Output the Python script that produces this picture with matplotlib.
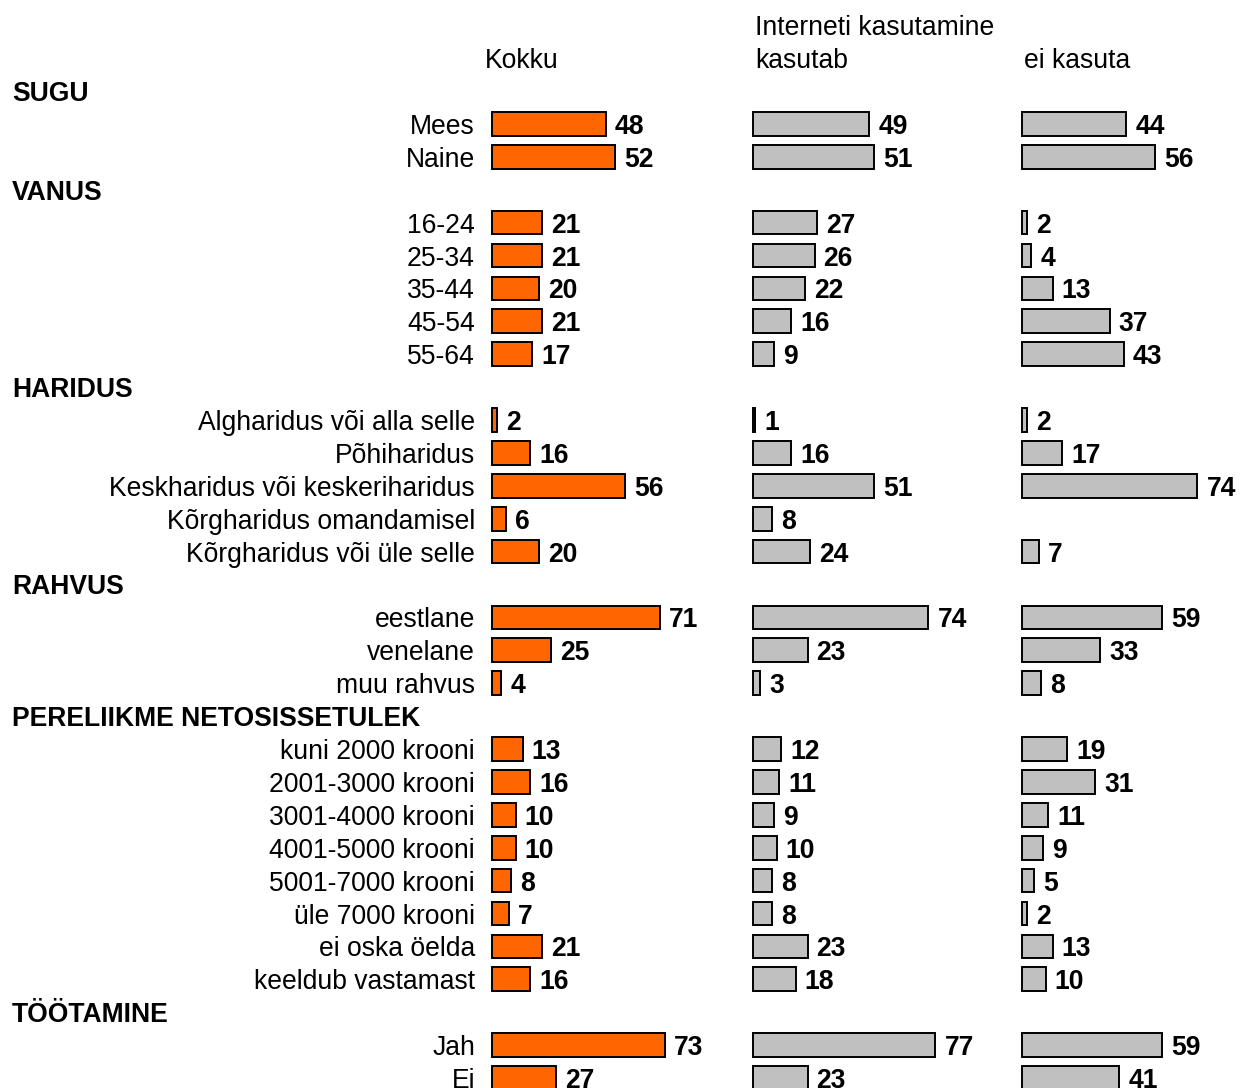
import numpy as np
import matplotlib
matplotlib.use("Agg")
import matplotlib.pyplot as plt
import matplotlib.transforms as mtransforms

plt.rcParams['font.family'] = ['Liberation Sans', 'DejaVu Sans']

sections = ["SUGU", "VANUS", "HARIDUS", "RAHVUS", "PERELIIKME NETOSISSETULEK", "TÖÖTAMINE"]
section_items = [
    ["Mees", "Naine"],
    ["16-24", "25-34", "35-44", "45-54", "55-64"],
    ["Algharidus või alla selle", "Põhiharidus", "Keskharidus või keskeriharidus",
     "Kõrgharidus omandamisel", "Kõrgharidus või üle selle"],
    ["eestlane", "venelane", "muu rahvus"],
    ["kuni 2000 krooni", "2001-3000 krooni", "3001-4000 krooni", "4001-5000 krooni",
     "5001-7000 krooni", "üle 7000 krooni", "ei oska öelda", "keeldub vastamast"],
    ["Jah", "Ei"],
]

kokku = [48, 52, 21, 21, 20, 21, 17, 2, 16, 56, 6, 20, 71, 25, 4,
         13, 16, 10, 10, 8, 7, 21, 16, 73, 27]
kasutab = [49, 51, 27, 26, 22, 16, 9, 1, 16, 51, 8, 24, 74, 23, 3,
           12, 11, 9, 10, 8, 8, 23, 18, 77, 23]
ei_kasuta = [44, 56, 2, 4, 13, 37, 43, 2, 17, 74, np.nan, 7, 59, 33, 8,
             19, 31, 11, 9, 5, 2, 13, 10, 59, 41]

col_titles = ["Kokku", "kasutab", "ei kasuta"]
super_title = "Interneti kasutamine"

W, H = 1240, 1088
FS = 19.1
fig = plt.figure(figsize=(W / 100, H / 100), dpi=100)

rows_header = []
rows_item = []
labels_item = []
r = 0
for s, items in zip(sections, section_items):
    rows_header.append(r)
    r += 1
    for it in items:
        rows_item.append(r)
        labels_item.append(it)
        r += 1
rows_item = np.array(rows_item)

row_px = 32.9
top_px = 91.0
y_top = -top_px / row_px
y_bot = (H - top_px) / row_px

scale = 2.37  # px per unit
xmax = 90
col_left_px = [492, 753, 1022]
data = [kokku, kasutab, ei_kasuta]
colors = ["#FF6600", "#C0C0C0", "#C0C0C0"]

axes = []
for left, vals, c in zip(col_left_px, data, colors):
    ax = fig.add_axes([left / W, 0, xmax * scale / W, 1])
    ax.set_xlim(0, xmax)
    ax.set_ylim(y_bot, y_top)
    ax.axis("off")
    vals = np.array(vals, dtype=float)
    mask = ~np.isnan(vals)
    ax.barh(rows_item[mask], vals[mask], height=0.72, color=c,
            edgecolor="black", linewidth=1.4, clip_on=False)
    offset = mtransforms.offset_copy(ax.transData, fig=fig, x=9, y=0, units="dots")
    for y, v in zip(rows_item[mask], vals[mask]):
        ax.text(v, y, f"{int(v)}", transform=offset, ha="left", va="center_baseline",
                fontsize=FS, fontweight="bold", clip_on=False)
    axes.append(ax)

ax0 = axes[0]
bt = mtransforms.blended_transform_factory(fig.transFigure, ax0.transData)
for y, lab in zip(rows_item, labels_item):
    fig.text(475 / W, y, lab, transform=bt, ha="right", va="center_baseline",
             fontsize=FS)
for y, s in zip(rows_header, sections):
    fig.text(12 / W, y, s, transform=bt, ha="left", va="center_baseline",
             fontsize=FS, fontweight="bold")

fig.text(522 / W, 1 - 58 / H, col_titles[0], ha="center", va="center_baseline", fontsize=FS)
fig.text(755 / W, 1 - 58 / H, col_titles[1], ha="left", va="center_baseline", fontsize=FS)
fig.text(755 / W, 1 - 25 / H, super_title, ha="left", va="center_baseline", fontsize=FS)
fig.text(1024 / W, 1 - 58 / H, col_titles[2], ha="left", va="center_baseline", fontsize=FS)

fig.savefig("out.png", dpi=100)
